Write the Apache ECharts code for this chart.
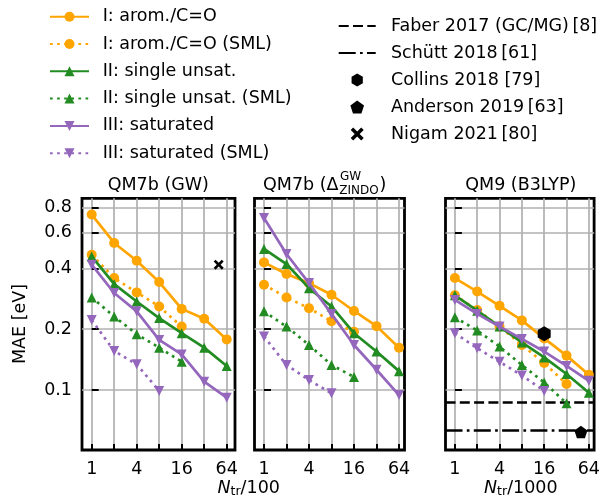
<!DOCTYPE html>
<html><head><meta charset="utf-8">
<script src="https://cdn.jsdelivr.net/npm/echarts@6/dist/echarts.min.js"></script>
<style>html,body{margin:0;padding:0;background:#fff}#c{width:603px;height:498px}</style>
</head><body><div id="c"></div>
<script>
// ---------------- data ----------------
const N = [1, 2, 4, 8, 16, 32, 64];
const xTickValues = [1, 2, 4, 8, 16, 32, 64];
const xTickLabels = [1, 4, 16, 64];
const yTickLabels = [0.1, 0.2, 0.4, 0.6, 0.8];

const seriesNames = ['I: arom./C=O', 'I: arom./C=O (SML)', 'II: single unsat.',
  'II: single unsat. (SML)', 'III: saturated', 'III: saturated (SML)'];
const panelTitles = ['QM7b (GW)', 'QM7b (Δ', 'QM9 (B3LYP)'];

// Panel 1: QM7b (GW)
const gw_I = [0.738, 0.534, 0.436, 0.342, 0.252, 0.225, 0.178];
const gw_I_SML = [0.467, 0.358, 0.304, 0.259, 0.206];
const gw_II = [0.458, 0.334, 0.274, 0.227, 0.191, 0.162, 0.1315];
const gw_II_SML = [0.287, 0.231, 0.189, 0.162, 0.138];
const gw_III = [0.417, 0.302, 0.245, 0.177, 0.150, 0.110, 0.0916];
const gw_III_SML = [0.222, 0.156, 0.134, 0.099];

// Panel 2: QM7b (Delta ZINDO -> GW)
const z_I = [0.428, 0.375, 0.338, 0.296, 0.246, 0.207, 0.162];
const z_I_SML = [0.332, 0.287, 0.254, 0.219, 0.194];
const z_II = [0.499, 0.420, 0.319, 0.259, 0.191, 0.155, 0.124];
const z_II_SML = [0.245, 0.206, 0.167, 0.133, 0.116];
const z_III = [0.710, 0.471, 0.338, 0.238, 0.167, 0.126, 0.0944];
const z_III_SML = [0.184, 0.133, 0.112, 0.0963];

// Panel 3: QM9 (B3LYP)
const q_I = [0.358, 0.307, 0.261, 0.221, 0.180, 0.148, 0.119];
const q_I_SML = [0.294, 0.249, 0.206, 0.167, 0.136, 0.107];
const q_II = [0.294, 0.247, 0.206, 0.172, 0.145, 0.120, 0.097];
const q_II_SML = [0.229, 0.197, 0.164, 0.133, 0.109, 0.0859];
const q_III = [0.279, 0.238, 0.206, 0.179, 0.155, 0.1315, 0.111];
const q_III_SML = [0.191, 0.161, 0.138, 0.118, 0.099];

// Literature references
const refNames = ['Faber 2017 (GC/MG)\u2009[8]', 'Schütt 2018\u2009[61]', 'Collins 2018 [79]',
  'Anderson 2019\u2009[63]', 'Nigam 2021\u2009[80]'];
const faberMAE = 0.0875;
const schuttMAE = 0.0633;
const collinsPt = [16, 0.19];
const andersonPt = [50, 0.062];
const nigamPt = [50, 0.417];

// ---------------- styles / layout ----------------
const FONT = 'DejaVu Sans';
const FS = 17.5;
const LW = 2.7;
const C_I = '#ffa500', C_II = '#228b22', C_III = '#9467bd';
const DOT = [2.7, 4.4];
const grids = [
  {left: 82, top: 198.3, width: 153, height: 251.7},
  {left: 254.5, top: 198.3, width: 150, height: 251.7},
  {left: 445.5, top: 198.3, width: 150.5, height: 251.7}
];
const xRanges = [[-0.431, 6.369], [-0.422, 6.244], [-0.42, 6.235]];
const yMin = Math.log10(0.0505), yMax = Math.log10(0.888);

const HEX = 'path://M50 0 L93.3 25 L93.3 75 L50 100 L6.7 75 L6.7 25 Z';
const PENT = 'path://M50 0 L97.6 34.5 L79.4 90.5 L20.6 90.5 L2.4 34.5 Z';
const XMARK = 'path://M0 19 L19 0 L50 31 L81 0 L100 19 L69 50 L100 81 L81 100 L50 69 L19 100 L0 81 L31 50 Z';

const styleDefs = [
  {color: C_I, symbol: 'circle', rot: 0, type: 'solid'},
  {color: C_I, symbol: 'circle', rot: 0, type: DOT},
  {color: C_II, symbol: 'triangle', rot: 0, type: 'solid'},
  {color: C_II, symbol: 'triangle', rot: 0, type: DOT},
  {color: C_III, symbol: 'triangle', rot: 180, type: 'solid'},
  {color: C_III, symbol: 'triangle', rot: 180, type: DOT}
];
const panels = [
  [gw_I, gw_I_SML, gw_II, gw_II_SML, gw_III, gw_III_SML],
  [z_I, z_I_SML, z_II, z_II_SML, z_III, z_III_SML],
  [q_I, q_I_SML, q_II, q_II_SML, q_III, q_III_SML]
];

const series = [];
panels.forEach((arrs, p) => {
  arrs.forEach((vals, k) => {
    const s = styleDefs[k];
    series.push({
      type: 'line', name: seriesNames[k], xAxisIndex: p, yAxisIndex: p,
      data: vals.map((v, i) => [Math.log2(N[i]), Math.log10(v)]),
      symbol: s.symbol, symbolSize: 10, symbolRotate: s.rot,
      lineStyle: {color: s.color, width: LW, type: s.type},
      itemStyle: {color: s.color},
      z: 3 + k, silent: true
    });
  });
});

function hline(name, value, dash) {
  return {
    type: 'line', name: name, xAxisIndex: 2, yAxisIndex: 2, data: [],
    symbol: 'none', lineStyle: {color: '#000', width: LW, type: dash},
    itemStyle: {color: '#000'},
    markLine: {
      silent: true, symbol: ['none', 'none'], label: {show: false},
      lineStyle: {color: '#000', width: LW, type: dash},
      data: [{yAxis: Math.log10(value)}]
    }
  };
}
series.push(hline(refNames[0], faberMAE, [10, 4.3]));
series.push(hline(refNames[1], schuttMAE, [17, 4.3, 2.7, 4.3]));
function pt(name, grid, p, symbol, size) {
  return {
    type: 'scatter', name: name, xAxisIndex: grid, yAxisIndex: grid,
    data: [[Math.log2(p[0]), Math.log10(p[1])]],
    symbol: symbol, symbolSize: size, symbolKeepAspect: true,
    itemStyle: {color: '#000', opacity: 1}, z: 10, silent: true
  };
}
series.push(pt(refNames[2], 2, collinsPt, HEX, 15));
series.push(pt(refNames[3], 2, andersonPt, PENT, 13));
series.push(pt(refNames[4], 0, nigamPt, XMARK, 10));

const xAxes = grids.map((g, i) => ({
  type: 'value', gridIndex: i, min: xRanges[i][0], max: xRanges[i][1],
  axisLine: {show: false},
  axisTick: {show: true, inside: true, length: 6, lineStyle: {color: '#000', width: 2},
    customValues: xTickValues.map(v => Math.log2(v))},
  axisLabel: {show: true, customValues: xTickLabels.map(v => Math.log2(v)),
    formatter: v => String(Math.round(Math.pow(2, v))),
    fontSize: FS, color: '#000', fontFamily: FONT, margin: 10},
  splitLine: {show: true, lineStyle: {color: '#b0b0b0', width: 1.7}}
}));
const yAxes = grids.map((g, i) => ({
  type: 'value', gridIndex: i, min: yMin, max: yMax,
  axisLine: {show: false},
  axisTick: {show: true, inside: true, length: 7, lineStyle: {color: '#000', width: 2},
    customValues: yTickLabels.map(v => Math.log10(v))},
  axisLabel: {show: i === 0, customValues: yTickLabels.map(v => Math.log10(v)),
    formatter: v => Math.pow(10, v).toFixed(1),
    fontSize: FS, color: '#000', fontFamily: FONT, margin: 10},
  splitLine: {show: true, lineStyle: {color: '#b0b0b0', width: 1.7}}
}));

const txt = (x, y, text, extra) => Object.assign({
  type: 'text', x: x, y: y, silent: true,
  style: Object.assign({text: text, font: FS + 'px "' + FONT + '"', fill: '#000',
    align: 'center', verticalAlign: 'middle'}, (extra && extra.style) || {})
}, extra && extra.rotation ? {rotation: extra.rotation} : {});

const richAxis = {
  i: {fontStyle: 'italic', fontSize: FS, fontFamily: FONT, lineHeight: 20},
  s: {fontSize: 12.5, fontFamily: FONT, lineHeight: 12, verticalAlign: 'bottom'},
  n: {fontSize: FS, fontFamily: FONT, lineHeight: 20}
};

const graphic = [
  txt(158.3, 185, panelTitles[0]),
  txt(520.8, 185, panelTitles[2]),
  txt(338.5, 185, panelTitles[1], {style: {align: 'right'}}),
  txt(340, 177, 'GW', {style: {align: 'left', font: '12px "' + FONT + '"'}}),
  txt(339.3, 190.5, 'ZINDO', {style: {align: 'left', font: '12px "' + FONT + '"'}}),
  txt(379.5, 185, ')', {style: {align: 'left'}}),
  txt(20, 324, 'MAE [eV]', {rotation: Math.PI / 2}),
  {type: 'text', x: 248.7, y: 488, silent: true,
   style: {text: '{i|N}{s|tr}{n|/100}', rich: richAxis, align: 'center', verticalAlign: 'middle', fill: '#000'}},
  {type: 'text', x: 520.8, y: 488.3, silent: true,
   style: {text: '{i|N}{s|tr}{n|/1000}', rich: richAxis, align: 'center', verticalAlign: 'middle', fill: '#000'}}
];

const legendText = {fontSize: FS, color: '#000', fontFamily: FONT, lineHeight: 20};
const option = {
  animation: false,
  textStyle: {fontFamily: FONT},
  grid: grids.map(g => Object.assign({show: true, borderColor: '#000', borderWidth: 2.8,
    backgroundColor: 'transparent'}, g)),
  xAxis: xAxes,
  yAxis: yAxes,
  legend: [
    {orient: 'vertical', left: 49, top: 6.7, padding: 0, itemWidth: 39, itemHeight: 12.5,
     itemGap: 7.3, selectedMode: false,
     textStyle: Object.assign({padding: [0, 0, 0, 8.7]}, legendText),
     data: seriesNames},
    {orient: 'vertical', left: 337.7, top: 16, padding: 0, itemWidth: 37, itemHeight: 13,
     itemGap: 7, selectedMode: false,
     textStyle: Object.assign({padding: [0, 0, 0, 10.3]}, legendText),
     data: [
       {name: refNames[0], itemStyle: {color: 'rgba(0,0,0,0)', opacity: 0}},
       {name: refNames[1], itemStyle: {color: 'rgba(0,0,0,0)', opacity: 0}},
       refNames[2], refNames[3], refNames[4]
     ]}
  ],
  graphic: graphic,
  series: series
};
const chart = echarts.init(document.getElementById('c'), null, {renderer: 'canvas'});
chart.setOption(option);
</script>
</body></html>
